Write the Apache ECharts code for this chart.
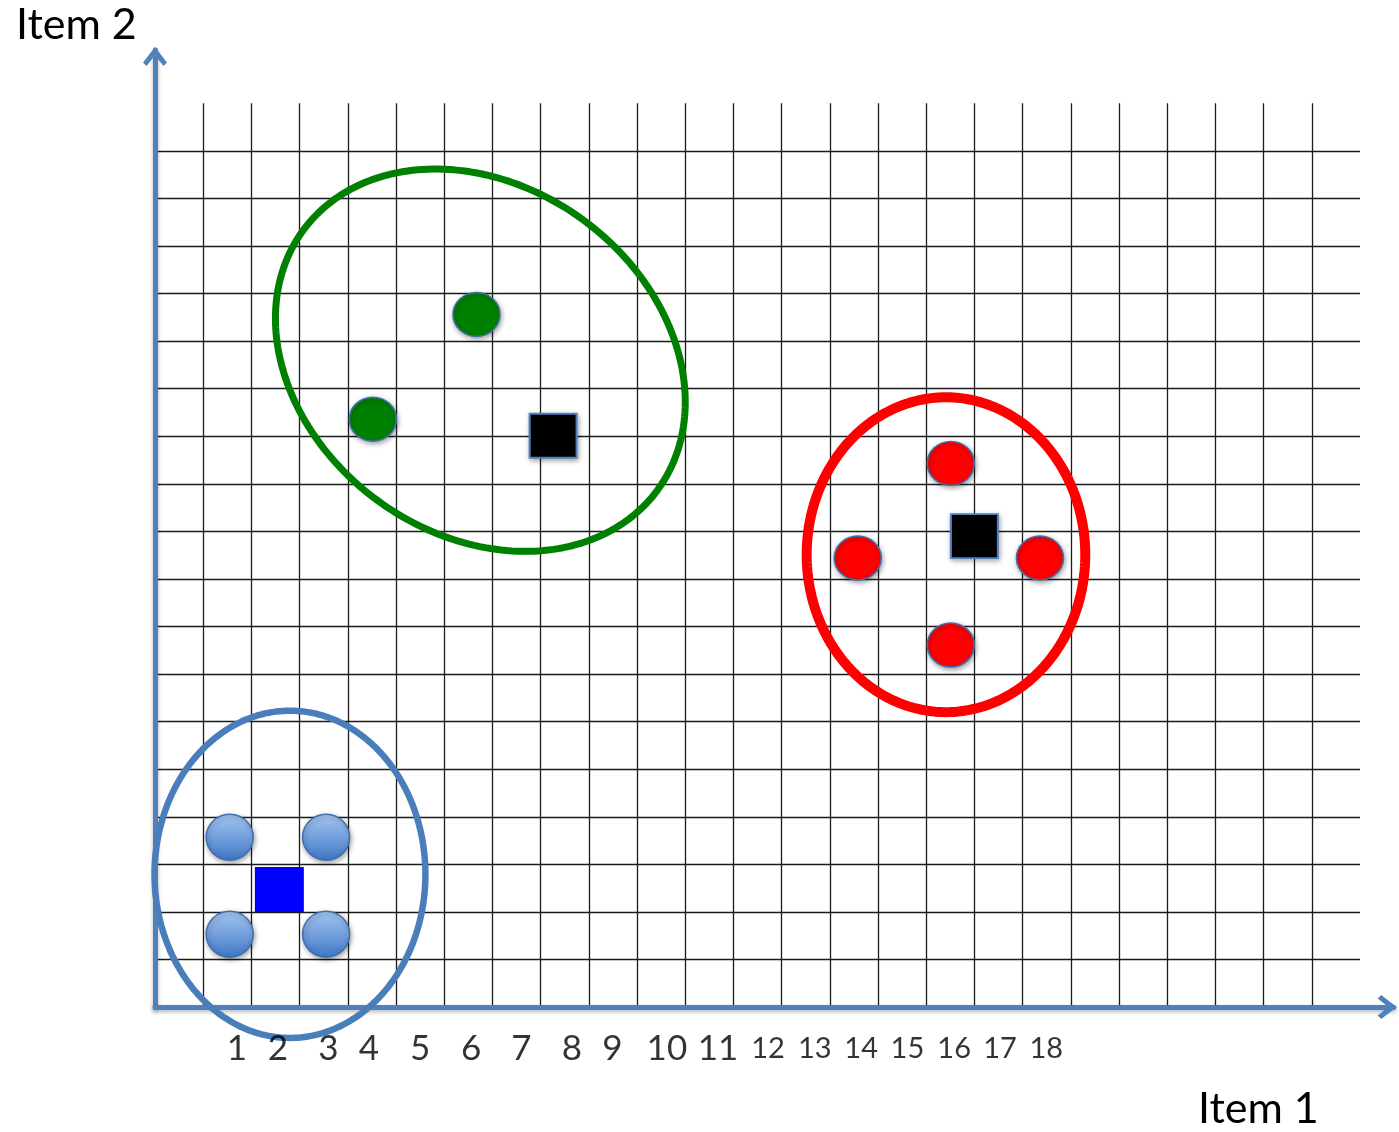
<!DOCTYPE html>
<html>
<head>
<meta charset="utf-8">
<title>Clusters</title>
<script src="https://cdn.jsdelivr.net/npm/echarts@6/dist/echarts.min.js"></script>
<style>
  html, body { margin: 0; padding: 0; background: #ffffff; }
  #chart { width: 1399px; height: 1132px; }
</style>
</head>
<body>
<div id="chart"></div>
<script>
// ---- Axis titles ----
const xTitle = 'Item 1';
const yTitle = 'Item 2';

// ---- Labels printed under the horizontal axis, with their positions in grid units ----
const tickLabels = ['1', '2', '3', '4', '5', '6', '7', '8', '9', '10', '11', '12', '13', '14', '15', '16', '17', '18'];
const tickPositions = [1.70, 2.55, 3.60, 4.44, 5.50, 6.56, 7.60, 8.65, 9.49, 10.62, 11.68, 12.72, 13.69, 14.65, 15.61, 16.58, 17.53, 18.49];

// ---- Cluster members (circles) and cluster centres (squares), [item1, item2] ----
const blueMembers = [[1.55, 3.57], [3.55, 3.57], [1.55, 1.53], [3.55, 1.53]];
const blueCentre = [[2.58, 2.47]];
const greenMembers = [[4.52, 12.36], [6.67, 14.56]];
const greenCentre = [[8.26, 12.01]];
const redMembers = [[16.51, 11.43], [14.58, 9.44], [18.36, 9.44], [16.51, 7.61]];
const redCentre = [[17.00, 9.90]];

// ---- Cluster outlines: centre, semi-axes and tilt in degrees ----
const outlineCentres = [[2.80, 2.79], [6.75, 13.60], [16.41, 9.51]];
const outlineRadii = [[2.81, 3.44], [4.58, 3.64], [2.89, 3.31]];
const outlineTilts = [0, -37.8, 0];

// ---- Paper grid size (cells) ----
const GRID_COLS = 25;
const GRID_ROWS = 19;

// ---- Styling ----
const AXIS_BLUE = '#4F81BD';
const outlineColors = ['#4A7EBB', '#008000', '#FF0000'];
const outlineWidths = [6.5, 7, 10];
const FONT = 'Lato, Carlito, "Open Sans", sans-serif';
const TICK_ROW = -0.87;

// Vertical rules stop one row short of the top; horizontal rules run one column further
const gridRules = [];
for (let c = 1; c < GRID_COLS; c++) gridRules.push({ coords: [[c, 0], [c, GRID_ROWS]] });
for (let r = 1; r < GRID_ROWS; r++) gridRules.push({ coords: [[0, r], [GRID_COLS, r]] });

// Open chevron used as the arrow head of both axes (points up; ECharts rotates it)
const chevron = 'path://M12,0 L24,15.5 L20.5,19 L12,8.5 L3.5,19 L0,15.5 Z';

const X_MAX = 25.7;
const Y_MAX = 20.12;
const X_UNIT = 48.2;
const Y_UNIT = 47.56;

const axisCommon = {
  type: 'value',
  min: 0,
  z: 2,
  axisTick: { show: false },
  axisLabel: { show: false },
  splitLine: { show: false },
  axisLine: {
    show: true,
    onZero: false,
    symbol: ['none', chevron],
    symbolSize: [24, 19],
    symbolOffset: [0, -6.5],
    lineStyle: {
      color: AXIS_BLUE,
      width: 5,
      shadowColor: 'rgba(0,0,0,0.3)',
      shadowBlur: 4,
      shadowOffsetY: 2
    }
  }
};

const memberStyle = (fill) => ({
  color: fill,
  opacity: 1,
  borderColor: '#3F6FAE',
  borderWidth: 1.5,
  shadowColor: 'rgba(0,0,0,0.35)',
  shadowBlur: 5,
  shadowOffsetX: 1,
  shadowOffsetY: 2
});

const blueGradient = new echarts.graphic.LinearGradient(0, 0, 0, 1, [
  { offset: 0, color: '#A7C7F2' },
  { offset: 0.55, color: '#6E9CDB' },
  { offset: 1, color: '#3C76C4' }
]);

const chart = echarts.init(document.getElementById('chart'), null, { renderer: 'canvas' });

chart.setOption({
  backgroundColor: '#ffffff',
  animation: false,
  title: [
    {
      text: yTitle, left: 16, top: 4, padding: 0,
      textStyle: { fontFamily: FONT, fontSize: 43, fontWeight: 'normal', color: '#000' }
    },
    {
      text: xTitle, left: 1198, top: 1088, padding: 0,
      textStyle: { fontFamily: FONT, fontSize: 43, fontWeight: 'normal', color: '#000' }
    }
  ],
  grid: {
    left: 155,
    top: 1007 - Y_MAX * Y_UNIT,
    width: X_MAX * X_UNIT,
    height: Y_MAX * Y_UNIT,
    containLabel: false,
    outerBoundsMode: 'none'
  },
  xAxis: Object.assign({}, axisCommon, { max: X_MAX }),
  yAxis: Object.assign({}, axisCommon, { max: Y_MAX }),
  series: [
    {
      // paper grid
      type: 'lines',
      coordinateSystem: 'cartesian2d',
      z: 1,
      silent: true,
      polyline: false,
      lineStyle: { color: '#1a1a1a', width: 1.3, opacity: 1 },
      data: gridRules
    },
    {
      // cluster outlines
      type: 'custom',
      z: 3,
      clip: false,
      silent: true,
      data: outlineCentres.map((c, i) => [c[0], c[1], outlineRadii[i][0], outlineRadii[i][1], outlineTilts[i]]),
      renderItem: (params, api) => {
        const cx = api.value(0), cy = api.value(1);
        const a = api.value(2), b = api.value(3);
        const tilt = api.value(4) * Math.PI / 180;
        const pts = [];
        const n = 240;
        for (let k = 0; k < n; k++) {
          const t = (k / n) * Math.PI * 2;
          const dx = a * Math.cos(t) * Math.cos(tilt) - b * Math.sin(t) * Math.sin(tilt);
          const dy = a * Math.cos(t) * Math.sin(tilt) + b * Math.sin(t) * Math.cos(tilt);
          pts.push(api.coord([cx + dx, cy + dy]));
        }
        return {
          type: 'polygon',
          shape: { points: pts },
          style: {
            fill: 'none',
            stroke: outlineColors[params.dataIndex],
            lineWidth: outlineWidths[params.dataIndex],
            lineJoin: 'round'
          }
        };
      }
    },
    {
      type: 'scatter', z: 4, clip: false, silent: true,
      symbol: 'circle', symbolSize: [47, 46],
      itemStyle: memberStyle(blueGradient),
      data: blueMembers
    },
    {
      type: 'scatter', z: 4, clip: false, silent: true,
      symbol: 'rect', symbolSize: [49, 45],
      itemStyle: { color: '#0000FF', opacity: 1 },
      data: blueCentre
    },
    {
      type: 'scatter', z: 4, clip: false, silent: true,
      symbol: 'circle', symbolSize: [47, 44],
      itemStyle: memberStyle('#008000'),
      data: greenMembers
    },
    {
      type: 'scatter', z: 4, clip: false, silent: true,
      symbol: 'circle', symbolSize: [47, 44],
      itemStyle: memberStyle('#FF0000'),
      data: redMembers
    },
    {
      type: 'scatter', z: 4, clip: false, silent: true,
      symbol: 'rect', symbolSize: [47, 44],
      itemStyle: {
        color: '#000000', opacity: 1, borderColor: AXIS_BLUE, borderWidth: 2,
        shadowColor: 'rgba(0,0,0,0.35)', shadowBlur: 5, shadowOffsetX: 1, shadowOffsetY: 2
      },
      data: greenCentre.concat(redCentre)
    },
    {
      // numbers under the horizontal axis
      type: 'scatter', z: 5, clip: false, silent: true,
      symbolSize: 1,
      itemStyle: { color: 'rgba(0,0,0,0)' },
      label: {
        show: true,
        position: 'inside',
        formatter: (p) => p.name,
        color: '#000',
        fontFamily: FONT,
        fontSize: 35,
        verticalAlign: 'middle',
        align: 'center'
      },
      data: tickLabels.map((t, i) => ({
        name: t,
        value: [tickPositions[i], TICK_ROW],
        label: { fontSize: i < 11 ? 35 : 29 }
      }))
    }
  ]
});
</script>
</body>
</html>
